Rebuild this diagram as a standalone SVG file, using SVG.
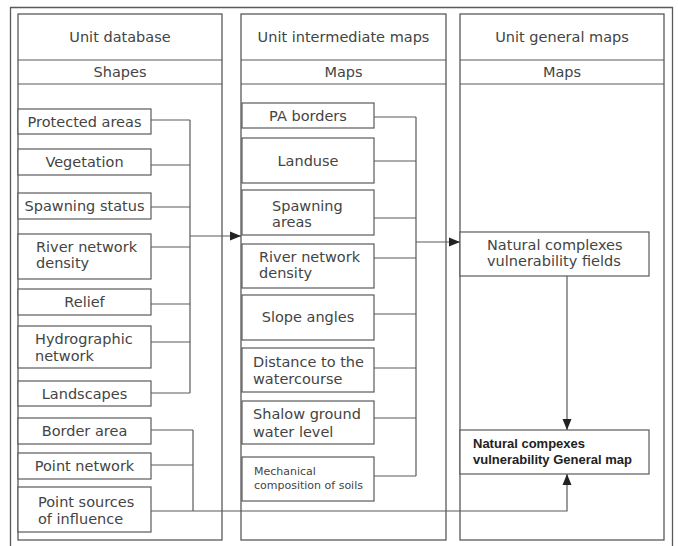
<svg xmlns="http://www.w3.org/2000/svg" width="678" height="546" viewBox="0 0 678 546">
<style>
  .frame { fill: none; stroke: #5a5a5a; stroke-width: 1.3; }
  .box { fill: #fff; stroke: #5a5a5a; stroke-width: 1.2; }
  .line { fill: none; stroke: #5a5a5a; stroke-width: 1.2; }
  text { font-family: "DejaVu Sans", "Liberation Sans", sans-serif; font-size: 14.5px; fill: #444; }
  .c { text-anchor: middle; }
  .small { font-size: 11px; }
  .bold { font-family: "Liberation Sans", "DejaVu Sans", sans-serif; font-weight: bold; font-size: 13px; fill: #222; }
</style>
<defs>
  <marker id="arr" markerUnits="userSpaceOnUse" markerWidth="12" markerHeight="10" refX="11" refY="5" orient="auto">
    <path d="M0,0.5 L11,5 L0,9.5 Z" fill="#222"/>
  </marker>
</defs>
<rect width="678" height="546" fill="#fff"/>
<path class="frame" d="M10.5,548 V7.5 H672.5 V548"/>

<g id="col-database">
  <rect class="frame" x="18" y="14" width="204" height="526"/>
  <line class="line" x1="18" y1="60" x2="222" y2="60"/>
  <line class="line" x1="18" y1="84" x2="222" y2="84"/>
  <text class="c" x="120" y="42">Unit database</text>
  <text class="c" x="120" y="77">Shapes</text>
</g>
<g id="col-intermediate">
  <rect class="frame" x="241" y="14" width="205" height="526"/>
  <line class="line" x1="241" y1="60" x2="446" y2="60"/>
  <line class="line" x1="241" y1="84" x2="446" y2="84"/>
  <text class="c" x="343.5" y="42">Unit intermediate maps</text>
  <text class="c" x="343.5" y="77">Maps</text>
</g>
<g id="col-general">
  <rect class="frame" x="460" y="14" width="204" height="526"/>
  <line class="line" x1="460" y1="60" x2="664" y2="60"/>
  <line class="line" x1="460" y1="84" x2="664" y2="84"/>
  <text class="c" x="562" y="42">Unit general maps</text>
  <text class="c" x="562" y="77">Maps</text>
</g>

<g id="connectors">
  <path class="line" d="M151,120 H190 M151,165 H190 M151,207 H190 M151,247 H190 M151,304 H190 M151,342 H190 M151,393 H190 M190,120 V393"/>
  <line class="line" x1="190" y1="236" x2="241" y2="236" marker-end="url(#arr)"/>
  <path class="line" d="M151,430 H193 M151,465 H193 M193,430 V511"/>
  <path class="line" d="M151,511 H567 V474" marker-end="url(#arr)"/>
  <path class="line" d="M374,117 H416 M374,161 H416 M374,218 H416 M374,258 H416 M374,314 H416 M374,368 H416 M374,418 H416 M374,476 H416 M416,117 V476"/>
  <line class="line" x1="416" y1="242" x2="460" y2="242" marker-end="url(#arr)"/>
  <line class="line" x1="567" y1="276" x2="567" y2="430" marker-end="url(#arr)"/>
</g>

<g id="protected-areas"><rect class="box" x="18" y="109" width="133" height="25"/><text class="c" x="84.5" y="127">Protected areas</text></g>
<g id="vegetation"><rect class="box" x="18" y="149" width="133" height="26"/><text class="c" x="84.5" y="167">Vegetation</text></g>
<g id="spawning-status"><rect class="box" x="18" y="193" width="133" height="26"/><text class="c" x="84.5" y="211">Spawning status</text></g>
<g id="river-density-db"><rect class="box" x="18" y="234" width="133" height="45"/><text x="36" y="252">River network</text><text x="36" y="268">density</text></g>
<g id="relief"><rect class="box" x="18" y="289" width="133" height="26"/><text class="c" x="84.5" y="307">Relief</text></g>
<g id="hydrographic"><rect class="box" x="18" y="326" width="133" height="42"/><text x="35" y="344">Hydrographic</text><text x="35" y="361">network</text></g>
<g id="landscapes"><rect class="box" x="18" y="381" width="133" height="25"/><text class="c" x="84.5" y="398.5">Landscapes</text></g>
<g id="border-area"><rect class="box" x="18" y="418" width="133" height="26"/><text class="c" x="84.5" y="436">Border area</text></g>
<g id="point-network"><rect class="box" x="18" y="453" width="133" height="26"/><text class="c" x="84.5" y="471">Point network</text></g>
<g id="point-sources"><rect class="box" x="18" y="487" width="133" height="45"/><text x="38" y="506.5">Point sources</text><text x="38" y="524">of influence</text></g>

<g id="pa-borders"><rect class="box" x="242" y="103" width="132" height="25"/><text class="c" x="308" y="120.5">PA borders</text></g>
<g id="landuse"><rect class="box" x="242" y="138" width="132" height="45"/><text class="c" x="308" y="165.5">Landuse</text></g>
<g id="spawning-areas"><rect class="box" x="242" y="190" width="132" height="45"/><text x="272" y="210.5">Spawning</text><text x="272" y="226.5">areas</text></g>
<g id="river-density-map"><rect class="box" x="242" y="244" width="132" height="44"/><text x="259" y="261.5">River network</text><text x="259" y="278">density</text></g>
<g id="slope-angles"><rect class="box" x="242" y="295" width="132" height="45"/><text class="c" x="308" y="322">Slope angles</text></g>
<g id="distance"><rect class="box" x="242" y="348" width="132" height="44"/><text x="253" y="366.5">Distance to the</text><text x="253" y="384">watercourse</text></g>
<g id="shalow"><rect class="box" x="242" y="401" width="132" height="43"/><text x="253" y="419">Shalow ground</text><text x="253" y="436.5">water level</text></g>
<g id="mechanical"><rect class="box" x="242" y="457" width="132" height="44"/><text class="small" x="254" y="475">Mechanical</text><text class="small" x="254" y="488.5">composition of soils</text></g>

<g id="vulnerability-fields"><rect class="box" x="460" y="232" width="189" height="44"/><text x="487" y="249.5">Natural complexes</text><text x="487" y="266">vulnerability fields</text></g>
<g id="general-map"><rect class="box" x="460" y="430" width="189" height="44"/><text class="bold" x="473" y="448">Natural compexes</text><text class="bold" x="473" y="463.5">vulnerability General map</text></g>
</svg>
